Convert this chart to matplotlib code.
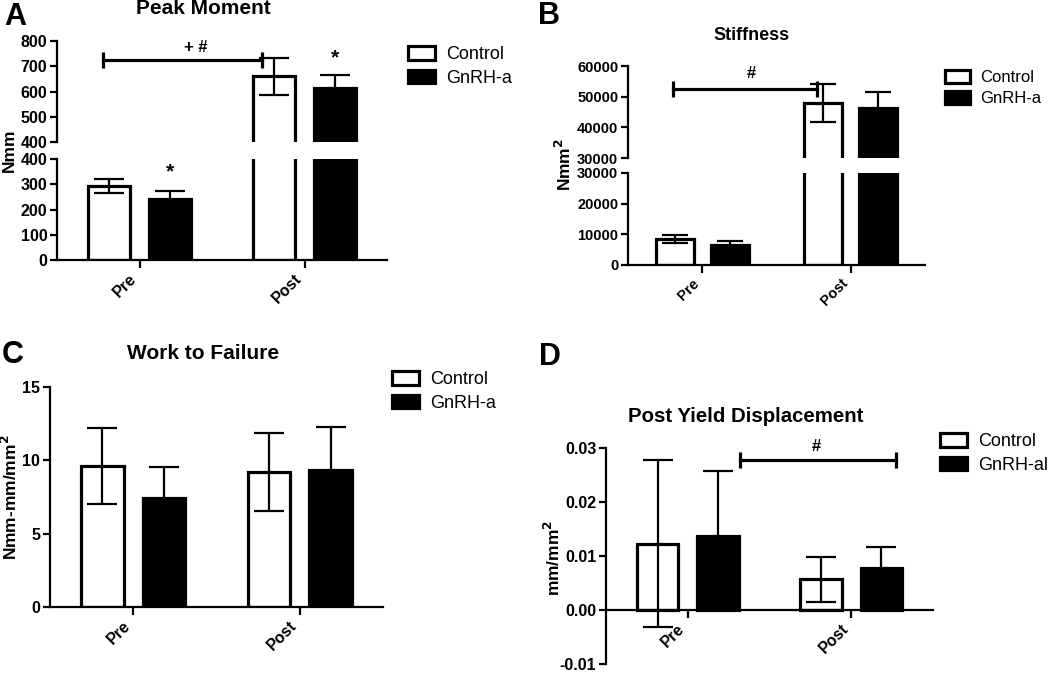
import matplotlib
matplotlib.use("Agg")
import matplotlib.pyplot as plt
from matplotlib.patches import Patch
import numpy as np

plt.rcParams["font.family"] = ["Liberation Sans", "DejaVu Sans"]
plt.rcParams["font.weight"] = "bold"

W, H = 1050, 674

groups = ["Pre", "Post"]

peak_ctrl = [293, 660]
peak_ctrl_err = [26, 72]
peak_gnrh = [241, 613]
peak_gnrh_err = [32, 52]

stiff_ctrl = [8500, 48000]
stiff_ctrl_err = [1400, 6100]
stiff_gnrh = [6500, 46200]
stiff_gnrh_err = [1300, 5200]

work_ctrl = [9.6, 9.2]
work_ctrl_err = [2.6, 2.65]
work_gnrh = [7.4, 9.35]
work_gnrh_err = [2.15, 2.9]

pyd_ctrl = [0.0123, 0.0057]
pyd_ctrl_err = [0.0154, 0.0042]
pyd_gnrh = [0.0137, 0.0078]
pyd_gnrh_err = [0.012, 0.0039]


def box(x0, y0, x1, y1):
    return [x0 / W, 1 - y1 / H, (x1 - x0) / W, (y1 - y0) / H]


def style(ax, size, bottom=True):
    for s in ["top", "right"]:
        ax.spines[s].set_visible(False)
    ax.spines["left"].set_linewidth(1.6)
    ax.spines["bottom"].set_linewidth(1.6)
    if not bottom:
        ax.spines["bottom"].set_visible(False)
    ax.tick_params(direction="out", width=1.6, length=5, labelsize=size, pad=2)
    ax.set_xlim(-0.5, 1.5)
    x = np.arange(len(groups))
    if bottom:
        ax.set_xticks(x)
        ax.set_xticklabels(groups, rotation=45, ha="right", fontsize=size)
        ax.tick_params(axis="x", length=6)
    else:
        ax.set_xticks([])


def draw_bars(ax, ctrl, ctrl_err, gnrh, gnrh_err, cap=10.5):
    x = np.arange(len(groups))
    ax.bar(x - 0.185, ctrl, 0.255, color="white", edgecolor="black", linewidth=2.3, zorder=2)
    ax.bar(x + 0.185, gnrh, 0.255, color="black", edgecolor="black", linewidth=2.3, zorder=2)
    ax.errorbar(x - 0.185, ctrl, yerr=ctrl_err, fmt="none", ecolor="black",
                elinewidth=1.6, capsize=cap, capthick=1.6, zorder=3)
    ax.errorbar(x + 0.185, gnrh, yerr=gnrh_err, fmt="none", ecolor="black",
                elinewidth=1.6, capsize=cap, capthick=1.6, zorder=3)


def bracket(ax, x0, x1, y):
    ax.plot([x0, x1], [y, y], color="black", lw=2.3, marker="|", markersize=11,
            mew=2.3, clip_on=False, zorder=4)


def legend(fig, x, y, size, labels):
    handles = [Patch(facecolor="white", edgecolor="black", linewidth=2.3, label=labels[0]),
               Patch(facecolor="black", edgecolor="black", linewidth=2.3, label=labels[1])]
    fig.legend(handles=handles, loc="upper left", bbox_to_anchor=(x / W, 1 - y / H),
               frameon=False, prop={"size": size, "weight": "normal"}, handlelength=1.5,
               handleheight=0.8, handletextpad=0.6, labelspacing=0.35, borderpad=0,
               borderaxespad=0)


def ftext(fig, x, y, s, size, **kw):
    fig.text(x / W, 1 - y / H, s, fontsize=size, fontweight="bold", ha="center", va="center", **kw)


fig = plt.figure(figsize=(W / 100, H / 100), dpi=100)

# A - peak moment (broken axis)
a_up = fig.add_axes(box(57, 41, 387, 142))
a_lo = fig.add_axes(box(57, 159, 387, 260))
for ax in (a_up, a_lo):
    draw_bars(ax, peak_ctrl, peak_ctrl_err, peak_gnrh, peak_gnrh_err)
style(a_up, 11.5, bottom=False)
style(a_lo, 11.5)
a_up.set_ylim(400, 800)
a_up.set_yticks(range(400, 801, 100))
a_lo.set_ylim(0, 400)
a_lo.set_yticks(range(0, 401, 100))
bracket(a_up, -0.22, 0.745, 725)
a_up.text(0.34, 776, "+ #", ha="center", va="center", fontsize=12)
a_lo.text(0.185, 350, "*", ha="center", va="center", fontsize=15)
a_up.text(1.185, 735, "*", ha="center", va="center", fontsize=15)
ftext(fig, 203, 9, "Peak Moment", 15)
ftext(fig, 15, 17, "A", 22)
ftext(fig, 9, 150, "Nmm", 12.5, rotation=90)
legend(fig, 408, 46, 13, ["Control", "GnRH-a"])

# B - stiffness (broken axis)
b_up = fig.add_axes(box(628, 66, 925, 158))
b_lo = fig.add_axes(box(628, 173, 925, 265))
for ax in (b_up, b_lo):
    draw_bars(ax, stiff_ctrl, stiff_ctrl_err, stiff_gnrh, stiff_gnrh_err, cap=9.5)
style(b_up, 10.5, bottom=False)
style(b_lo, 10.5)
b_up.set_ylim(30000, 60000)
b_up.set_yticks(range(30000, 60001, 10000))
b_lo.set_ylim(0, 30000)
b_lo.set_yticks(range(0, 30001, 10000))
bracket(b_up, -0.195, 0.77, 52450)
b_up.text(0.33, 57700, "#", ha="center", va="center", fontsize=12)
ftext(fig, 752, 36, "Stiffness", 13)
ftext(fig, 549, 16, "B", 22)
ftext(fig, 564, 165, "Nmm$^\\mathbf{2}$", 12.5, rotation=90)
legend(fig, 945, 70, 12, ["Control", "GnRH-a"])

# C - work to failure
c = fig.add_axes(box(50, 387, 383, 607))
draw_bars(c, work_ctrl, work_ctrl_err, work_gnrh, work_gnrh_err)
style(c, 11.5)
c.set_ylim(0, 15)
c.set_yticks([0, 5, 10, 15])
ftext(fig, 203, 353, "Work to Failure", 15)
ftext(fig, 13, 355, "C", 22)
ftext(fig, 10, 497, "Nmm-mm/mm$^\\mathbf{2}$", 12.5, rotation=90)
legend(fig, 392, 371, 13, ["Control", "GnRH-a"])

# D - post yield displacement, x axis sits at zero
d = fig.add_axes(box(606, 448, 933, 664))
d.spines["bottom"].set_position(("data", 0))
draw_bars(d, pyd_ctrl, pyd_ctrl_err, pyd_gnrh, pyd_gnrh_err)
style(d, 11.5)
d.set_ylim(-0.01, 0.03)
d.set_yticks([-0.01, 0.0, 0.01, 0.02, 0.03])
d.yaxis.set_major_formatter(matplotlib.ticker.FormatStrFormatter("%.2f"))
bracket(d, 0.317, 1.274, 0.0277)
d.text(0.787, 0.0303, "#", ha="center", va="center", fontsize=12)
ftext(fig, 746, 417, "Post Yield Displacement", 14.7)
ftext(fig, 550, 357, "D", 22)
ftext(fig, 553, 558, "mm/mm$^\\mathbf{2}$", 12.5, rotation=90)
legend(fig, 940, 433, 13, ["Control", "GnRH-al"])

fig.savefig("out.png", dpi=100)
